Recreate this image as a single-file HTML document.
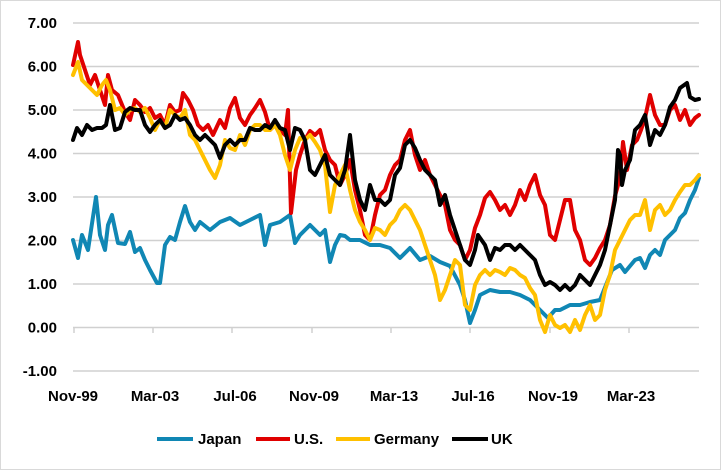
<!DOCTYPE html>
<html><head><meta charset="utf-8"><style>
body{margin:0;background:#fff;}
svg{display:block;font-family:"Liberation Sans",Arial,sans-serif;font-weight:bold;}
</style></head><body>
<svg width="721" height="470" viewBox="0 0 721 470" xmlns="http://www.w3.org/2000/svg">
<rect x="0.5" y="0.5" width="720" height="469" fill="#fff" stroke="#d9d9d9"/>
<g stroke="#d0d0d0" stroke-width="1.5">
<line x1="73" x2="699" y1="23" y2="23"/>
<line x1="73" x2="699" y1="66.5" y2="66.5"/>
<line x1="73" x2="699" y1="110" y2="110"/>
<line x1="73" x2="699" y1="153.5" y2="153.5"/>
<line x1="73" x2="699" y1="197" y2="197"/>
<line x1="73" x2="699" y1="240.5" y2="240.5"/>
<line x1="73" x2="699" y1="284" y2="284"/>
<line x1="73" x2="699" y1="327.5" y2="327.5"/>
<line x1="73" x2="699" y1="371" y2="371"/>
<line x1="74" x2="74" y1="327" y2="333"/><line x1="153" x2="153" y1="327" y2="333"/><line x1="232" x2="232" y1="327" y2="333"/><line x1="312" x2="312" y1="327" y2="333"/><line x1="391" x2="391" y1="327" y2="333"/><line x1="470" x2="470" y1="327" y2="333"/><line x1="550" x2="550" y1="327" y2="333"/><line x1="629" x2="629" y1="327" y2="333"/>
</g>
<g font-size="15" fill="#000" text-anchor="end">
<text x="57" y="28">7.00</text><text x="57" y="71.5">6.00</text><text x="57" y="115">5.00</text><text x="57" y="158.5">4.00</text><text x="57" y="202">3.00</text><text x="57" y="245.5">2.00</text><text x="57" y="289">1.00</text><text x="57" y="332.5">0.00</text><text x="57" y="376">-1.00</text>
</g>
<g font-size="15" fill="#000" text-anchor="middle">
<text x="73" y="401">Nov-99</text><text x="155" y="401">Mar-03</text><text x="235" y="401">Jul-06</text><text x="314" y="401">Nov-09</text><text x="394" y="401">Mar-13</text><text x="473" y="401">Jul-16</text><text x="553" y="401">Nov-19</text><text x="631" y="401">Mar-23</text>
</g>
<g fill="none" stroke-width="4" stroke-linejoin="round" stroke-linecap="round">
<polyline stroke="#1087b4" points="73,240 78,258 82,235 88,250 96,197 100,235 105,250 108,225 112,215 118,243 125,244 130,232 135,252 140,248 145,260 150,270 157,283 160,283 165,245 170,237 175,240 180,222 185,206 190,222 195,230 200,222 210,230 220,222 230,218 240,225 250,220 260,215 265,245 270,225 280,222 290,215 295,243 300,235 305,230 310,225 320,235 325,230 330,262 335,245 340,235 345,236 350,240 360,240 370,245 380,245 390,248 400,258 410,248 420,260 430,256 440,262 450,266 460,285 465,300 470,323 475,310 480,295 490,290 500,292 510,292 520,295 530,300 540,310 548,318 555,310 560,310 570,305 580,305 590,302 600,300 608,280 612,270 620,265 625,272 635,260 640,258 645,268 650,255 655,250 660,255 665,240 670,235 675,230 680,218 685,213 690,200 695,190 699,178"/>
<polyline stroke="#e00000" points="73,65 78,42 80,55 85,70 90,85 95,75 100,90 105,105 108,75 112,90 118,95 125,112 130,120 135,100 140,105 145,112 150,108 155,118 160,115 165,125 170,105 175,112 180,110 183,93 188,100 193,110 198,125 203,130 208,125 213,135 220,120 225,128 230,108 235,98 240,118 245,125 250,115 255,108 260,100 265,112 270,130 275,125 280,130 285,135 288,110 291,213 296,170 300,155 305,140 310,131 315,135 320,130 325,150 330,160 335,165 340,185 345,175 350,160 355,190 360,210 365,235 370,240 375,215 380,195 385,190 390,175 395,165 400,160 405,140 410,130 415,155 420,170 425,160 430,175 435,185 440,195 445,205 450,230 455,240 460,245 465,260 470,250 475,228 480,215 485,198 490,192 495,200 500,210 505,205 510,215 515,205 520,190 525,200 530,185 535,175 540,195 545,205 550,235 555,240 560,220 565,200 570,200 575,230 580,240 585,260 590,265 595,258 600,248 605,240 610,225 615,196 620,178 623,142 627,170 632,145 637,140 641,130 645,118 650,95 655,115 660,125 665,125 670,110 675,105 680,120 685,110 690,125 695,118 699,115"/>
<polyline stroke="#ffc000" points="73,75 78,62 82,80 87,85 92,90 97,95 102,85 106,80 110,90 115,110 120,108 125,115 130,110 135,108 140,112 145,108 150,118 155,130 160,120 165,128 170,110 175,115 180,118 185,110 190,135 195,140 200,150 205,160 210,170 215,178 220,165 225,140 230,148 235,150 240,135 245,145 250,130 255,125 260,125 265,130 270,130 275,125 280,135 285,155 290,170 295,150 300,138 305,140 310,135 315,142 320,150 325,165 330,212 335,185 340,175 345,165 350,190 355,210 360,222 365,230 370,240 375,228 380,230 385,235 390,225 395,220 400,210 405,205 410,210 415,220 420,230 425,245 430,260 435,275 440,300 445,290 450,275 455,260 460,265 465,305 470,310 475,285 480,275 485,270 490,275 495,270 500,272 505,275 510,268 515,270 520,275 525,278 530,288 535,295 540,320 545,332 550,315 555,325 560,328 565,325 570,332 575,320 580,330 585,315 590,305 595,320 600,315 605,290 610,275 615,250 620,240 625,230 630,220 635,215 640,215 645,200 650,230 655,210 660,205 665,215 670,210 675,200 680,192 685,185 690,185 695,180 699,175"/>
<polyline stroke="#000" points="73,140 77,128 82,135 87,125 92,130 97,128 102,128 106,125 110,105 115,130 120,128 125,112 130,108 135,110 140,110 145,125 150,132 155,125 160,120 165,128 170,125 175,115 180,120 185,118 190,125 195,135 200,140 205,135 210,140 215,145 220,158 225,145 230,140 235,145 240,140 245,140 250,128 255,130 260,130 265,125 270,128 275,120 280,128 285,130 290,150 295,128 300,130 305,140 310,170 315,175 320,165 325,155 330,175 340,185 345,170 350,135 355,180 360,200 365,210 370,185 375,200 380,200 385,205 390,200 395,175 400,168 405,145 410,140 415,148 420,160 425,170 430,175 435,180 440,205 445,195 450,215 455,230 460,245 465,260 470,265 475,250 478,235 485,245 490,260 495,248 500,250 505,245 510,245 515,250 520,245 525,250 530,255 535,260 540,275 545,285 550,282 555,285 560,290 565,285 570,290 575,285 580,275 585,280 590,285 595,275 600,265 605,250 610,225 615,200 618,150 620,155 622,185 625,170 630,160 635,130 640,125 645,115 650,145 655,130 660,135 665,125 670,107 675,100 680,88 687,83 690,97 695,100 699,99"/>
</g>
<g stroke-width="4">
<line x1="157" x2="193" y1="439" y2="439" stroke="#1087b4"/>
<line x1="256" x2="290" y1="439" y2="439" stroke="#e00000"/>
<line x1="336" x2="370" y1="439" y2="439" stroke="#ffc000"/>
<line x1="452" x2="488" y1="439" y2="439" stroke="#000"/>
</g>
<g font-size="15" fill="#000">
<text x="198" y="444">Japan</text><text x="294" y="444">U.S.</text><text x="374" y="444">Germany</text><text x="491" y="444">UK</text>
</g>
</svg>
</body></html>
